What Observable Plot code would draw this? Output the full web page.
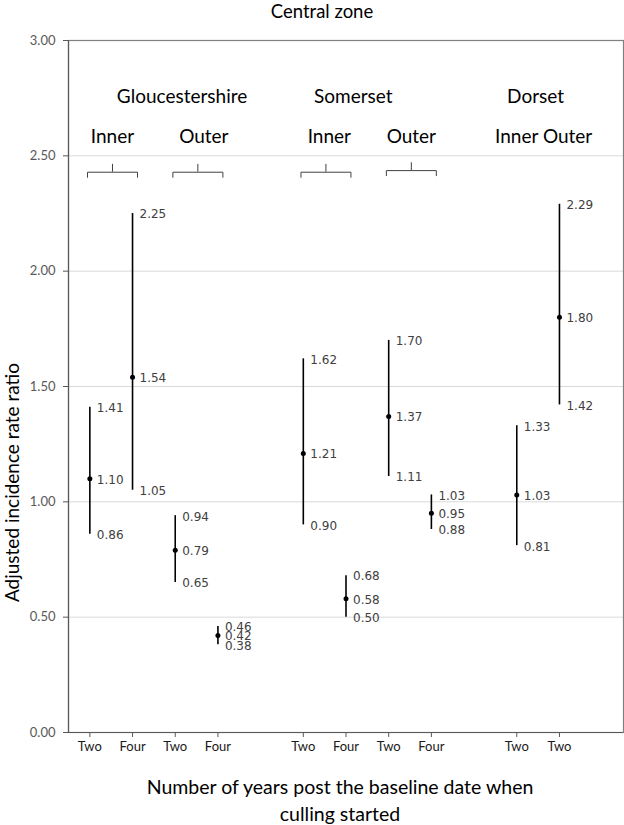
<!DOCTYPE html>
<html>
<head>
<meta charset="utf-8">
<script src="https://cdn.jsdelivr.net/npm/d3@7"></script>
<script src="https://cdn.jsdelivr.net/npm/@observablehq/plot@0.6"></script>
<style>
  html, body { margin: 0; padding: 0; background: #fff; }
  #chart svg { display: block; }
</style>
</head>
<body>
<div id="chart"></div>
<script>
// ---- data ----
const slot = [0, 1, 2, 3, 5, 6, 7, 8, 10, 11];
const years = ["Two", "Four", "Two", "Four", "Two", "Four", "Two", "Four", "Two", "Two"];
const estimate = [1.10, 1.54, 0.79, 0.42, 1.21, 0.58, 1.37, 0.95, 1.03, 1.80];
const lower = [0.86, 1.05, 0.65, 0.38, 0.90, 0.50, 1.11, 0.88, 0.81, 1.42];
const upper = [1.41, 2.25, 0.94, 0.46, 1.62, 0.68, 1.70, 1.03, 1.33, 2.29];

const counties = ["Gloucestershire", "Somerset", "Dorset"];
const countySlot = [2.16, 6.17, 10.44];
const zones = ["Inner", "Outer", "Inner", "Outer", "Inner Outer"];
const zoneSlot = [0.53, 2.67, 5.61, 7.53, 10.63];
const bracketStart = [0, 2, 5, 7];
const bracketLevel = [2.429, 2.429, 2.429, 2.436];
const yTicks = [0, 0.5, 1, 1.5, 2, 2.5, 3];
const gridTicks = [0.5, 1, 1.5, 2, 2.5];

const title = "Central zone";
const yTitle = "Adjusted incidence rate ratio";
const xTitle = "Number of years post the baseline date when\nculling started";

// ---- derived tables ----
const rows = slot.map((s, i) => ({x: s, year: years[i], est: estimate[i], lo: lower[i], hi: upper[i]}));
const countyRows = counties.map((c, i) => ({x: countySlot[i], label: c}));
const zoneRows = zones.map((z, i) => ({x: zoneSlot[i], label: z}));
const bracketPts = [];
bracketStart.forEach((k, j) => {
  const b = bracketLevel[j];
  bracketPts.push({x: k - 0.055, y: b - 0.022, z: "b" + j});
  bracketPts.push({x: k - 0.055, y: b, z: "b" + j});
  bracketPts.push({x: k + 1.116, y: b, z: "b" + j});
  bracketPts.push({x: k + 1.116, y: b - 0.022, z: "b" + j});
});
const bracketTicks = bracketStart.map((k, j) => ({x: k + 0.53, y1: bracketLevel[j], y2: bracketLevel[j] + 0.034}));

const fmt = d3.format(".2f");
const labelFont = "DejaVu Sans, Verdana, sans-serif";
const mainFont = "Lato, 'Open Sans', sans-serif";

const chart = Plot.plot({
  width: 624,
  height: 825,
  marginTop: 40,
  marginBottom: 93,
  marginLeft: 68,
  marginRight: 1,
  style: {fontFamily: mainFont, background: "#fff"},
  x: {domain: [-0.5, 12.5]},
  y: {domain: [0, 3]},
  marks: [
    Plot.ruleY(gridTicks, {stroke: "#d9d9d9", strokeWidth: 1}),
    Plot.frame({stroke: "#808080", strokeWidth: 1.2}),
    Plot.ruleX([-0.5], {stroke: "#595959", strokeWidth: 1.2}),
    Plot.ruleY([0], {stroke: "#595959", strokeWidth: 1.2}),
    Plot.axisY({ticks: yTicks, tickFormat: fmt, tickSize: 5, tickPadding: 8, fontSize: 13, color: "#595959", stroke: "#595959", label: null}),
    Plot.axisX({ticks: slot, tickFormat: (d) => years[slot.indexOf(d)], tickSize: 5, tickPadding: 4, fontSize: 13, color: "#1a1a1a", stroke: "#595959", label: null}),
    // brackets
    Plot.line(bracketPts, {x: "x", y: "y", z: "z", stroke: "#404040", strokeWidth: 1}),
    Plot.ruleX(bracketTicks, {x: "x", y1: "y1", y2: "y2", stroke: "#404040", strokeWidth: 1}),
    // group labels
    Plot.text(countyRows, {x: "x", y: 2.757, text: "label", fontSize: 19, fill: "#000", lineAnchor: "middle"}),
    Plot.text(zoneRows, {x: "x", y: 2.58, text: "label", fontSize: 19, fill: "#000", lineAnchor: "middle"}),
    // error bars
    Plot.ruleX(rows, {x: "x", y1: "lo", y2: "hi", stroke: "#000", strokeWidth: 1.6}),
    Plot.dot(rows, {x: "x", y: "est", r: 2.5, fill: "#000", stroke: null}),
    // value labels
    Plot.text(rows, {x: "x", y: "hi", text: (d) => fmt(d.hi), dx: 7, dy: 1, textAnchor: "start", fontSize: 12, fontFamily: labelFont, fill: "#404040"}),
    Plot.text(rows, {x: "x", y: "est", text: (d) => fmt(d.est), dx: 7, dy: 1, textAnchor: "start", fontSize: 12, fontFamily: labelFont, fill: "#404040"}),
    Plot.text(rows, {x: "x", y: "lo", text: (d) => fmt(d.lo), dx: 7, dy: 1, textAnchor: "start", fontSize: 12, fontFamily: labelFont, fill: "#404040"}),
    // titles
    Plot.text([title], {frameAnchor: "top", dx: -24, dy: -28, lineAnchor: "middle", fontSize: 18.5, fill: "#000"}),
    Plot.text([yTitle], {frameAnchor: "left", textAnchor: "middle", dx: -56, dy: 96, rotate: -90, lineAnchor: "middle", fontSize: 19, fill: "#000"}),
    Plot.text([xTitle], {frameAnchor: "bottom", dx: -6, dy: 66.5, lineAnchor: "middle", lineHeight: 1.385, fontSize: 19.5, fill: "#000"})
  ]
});
document.getElementById("chart").appendChild(chart);
</script>
</body>
</html>
